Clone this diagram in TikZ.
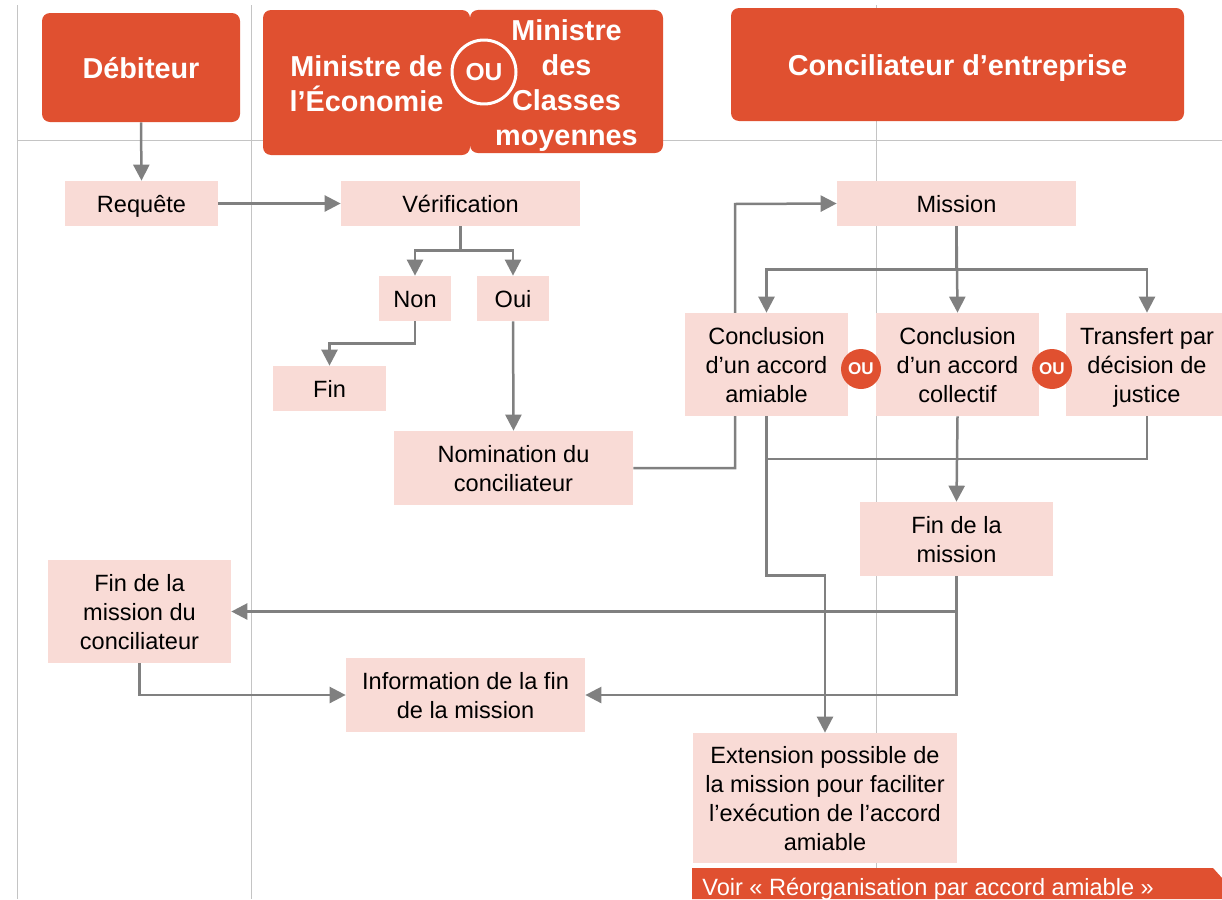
\documentclass[tikz,border=0pt]{standalone}
\usepackage{fontspec}
\setmainfont{Liberation Sans}
\usetikzlibrary{arrows.meta}
\definecolor{headred}{RGB}{224,80,48}
\definecolor{boxpink}{RGB}{249,219,214}
\definecolor{flowgray}{RGB}{128,128,128}
\definecolor{gridgray}{RGB}{196,196,196}
\pgfdeclarelayer{grid}
\pgfdeclarelayer{lines}
\pgfsetlayers{grid,lines,main}
\newcommand{\boxfont}{\fontsize{13.4}{16.5}\selectfont}
\newcommand{\headfont}{\fontsize{16.4}{19.9}\selectfont\bfseries}
\tikzset{
  head/.style n args={3}{fill=headred, text=white, rounded corners=0.16cm, align=center, font=\headfont, inner sep=0pt,
    minimum width=#1*0.02cm, minimum height=#2*0.02cm, text height=#3, text depth=6pt},
  procbox/.style n args={3}{fill=boxpink, align=center, font=\boxfont, inner sep=0pt,
    minimum width=#1*0.02cm, minimum height=#2*0.02cm, text height=#3, text depth=4.95pt},
  oubadge/.style={circle, fill=headred, text=white, font=\fontsize{9.7}{11}\selectfont\bfseries, inner sep=0pt, minimum size=0.8cm},
  flow/.style={draw=flowgray, line width=0.05cm, -{Triangle[length=0.32cm,width=0.32cm]}},
  flowline/.style={draw=flowgray, line width=0.05cm},
  gridline/.style={draw=gridgray, line width=0.02cm},
}
\begin{document}
\begin{tikzpicture}[x=0.02cm, y=-0.02cm]
    \useasboundingbox (0,0) rectangle (1222,899);

    % Swimlane grid
    \begin{pgfonlayer}{grid}
        \draw[gridline] (17,5) -- (17,899);
        \draw[gridline] (251,5) -- (251,899);
        \draw[gridline] (876,5) -- (876,899);
        \draw[gridline] (17,140) -- (1222,140);
    \end{pgfonlayer}

    % Lane headers (text height grows by one line per row)
    \node[head={198}{109}{18.9pt}] (debiteur) at (141,67.5) {Débiteur};
    \node[head={207}{145}{38.8pt}] (ministreeco) at (366.5,82.5) {Ministre de\\l’Économie};
    \node[head={193}{143}{77pt}, text depth=4.4pt] (ministrecm) at (566.5,81.5) {Ministre\\des\\Classes\\moyennes};
    \node[circle, draw=white, line width=0.06cm, minimum size=1.28cm, inner sep=0pt, text=white, font=\fontsize{14}{16}\selectfont\bfseries] (ouhead) at (484,72) {OU};
    \node[head={453}{113}{18.9pt}] (conciliateur) at (957.5,64.5) {Conciliateur d’entreprise};

    % Steps
    \node[procbox={153}{45}{15.15pt}] (requete) at (141.5,203.5) {Requête};
    \node[procbox={239}{45}{15.15pt}] (verif) at (460.5,203.5) {Vérification};
    \node[procbox={72}{45}{15.15pt}] (non) at (415,298.5) {Non};
    \node[procbox={72}{45}{15.15pt}] (oui) at (513,298.5) {Oui};
    \node[procbox={113}{45}{15.15pt}] (fin) at (329.5,388.5) {Fin};
    \node[procbox={239}{74}{31.65pt}] (nomination) at (513.5,468) {Nomination du\\conciliateur};
    \node[procbox={239}{45}{15.15pt}] (mission) at (956.5,203.5) {Mission};
    \node[procbox={163}{103}{48.15pt}] (amiable) at (766.5,364.5) {Conclusion\\d’un accord\\amiable};
    \node[procbox={163}{103}{48.15pt}] (collectif) at (957.5,364.5) {Conclusion\\d’un accord\\collectif};
    \node[procbox={162}{103}{48.15pt}] (transfert) at (1147,364.5) {Transfert par\\décision de\\justice};
    \node[oubadge] (ou1) at (861,369) {OU};
    \node[oubadge] (ou2) at (1052,369) {OU};
    \node[procbox={193}{74}{31.65pt}] (finmission) at (956.5,539) {Fin de la\\mission};
    \node[procbox={183}{103}{48.15pt}] (finconc) at (139.5,611.5) {Fin de la\\mission du\\conciliateur};
    \node[procbox={239}{74}{31.65pt}] (info) at (465.5,695) {Information de la fin\\de la mission};
    \node[procbox={264}{130}{64.65pt}] (extension) at (825,798) {Extension possible de\\la mission pour faciliter\\l’exécution de l’accord\\amiable};

    % Banner
    \fill[headred] (692,868) -- (1213,868) -- (1222,878) -- (1222,899) -- (692,899) -- cycle;
    \node[anchor=base west, text=white, font=\boxfont, inner sep=0pt] (voir) at (702,895) {Voir « Réorganisation par accord amiable »};

    % Corridors
    \coordinate (loopx) at (735,204);
    \coordinate (merge) at (766,459);

    % Connectors
    \begin{pgfonlayer}{lines}
        \draw[flow] (debiteur.south) -- (requete.north);
        \draw[flow] (requete.east) -- (verif.west);
        \draw[flow] (verif.south) -- ++(0,24) -| (non.north);
        \draw[flow] (verif.south) -- ++(0,24) -| (oui.north);
        \draw[flow] (non.south) -- ++(0,22) -| (fin.north);
        \draw[flow] (oui.south) -- (nomination.north);
        \draw[flow] (nomination.east) -| (loopx) -- (mission.west);
        \draw[flow] (mission.south) -- (collectif.north);
        \draw[flow] (mission.south) -- ++(0,43) -| (amiable.north);
        \draw[flow] (mission.south) -- ++(0,43) -| (transfert.north);
        \draw[flowline] (transfert.south) |- (merge);
        \draw[flow] (collectif.south) -- (finmission.north);
        \draw[flow] (amiable.south) -- ++(0,159) -| (extension.north);
        \draw[flow] (finmission.south) |- (finconc.east);
        \draw[flow] (finmission.south) |- (info.east);
        \draw[flow] (finconc.south) |- (info.west);
    \end{pgfonlayer}
\end{tikzpicture}
\end{document}
